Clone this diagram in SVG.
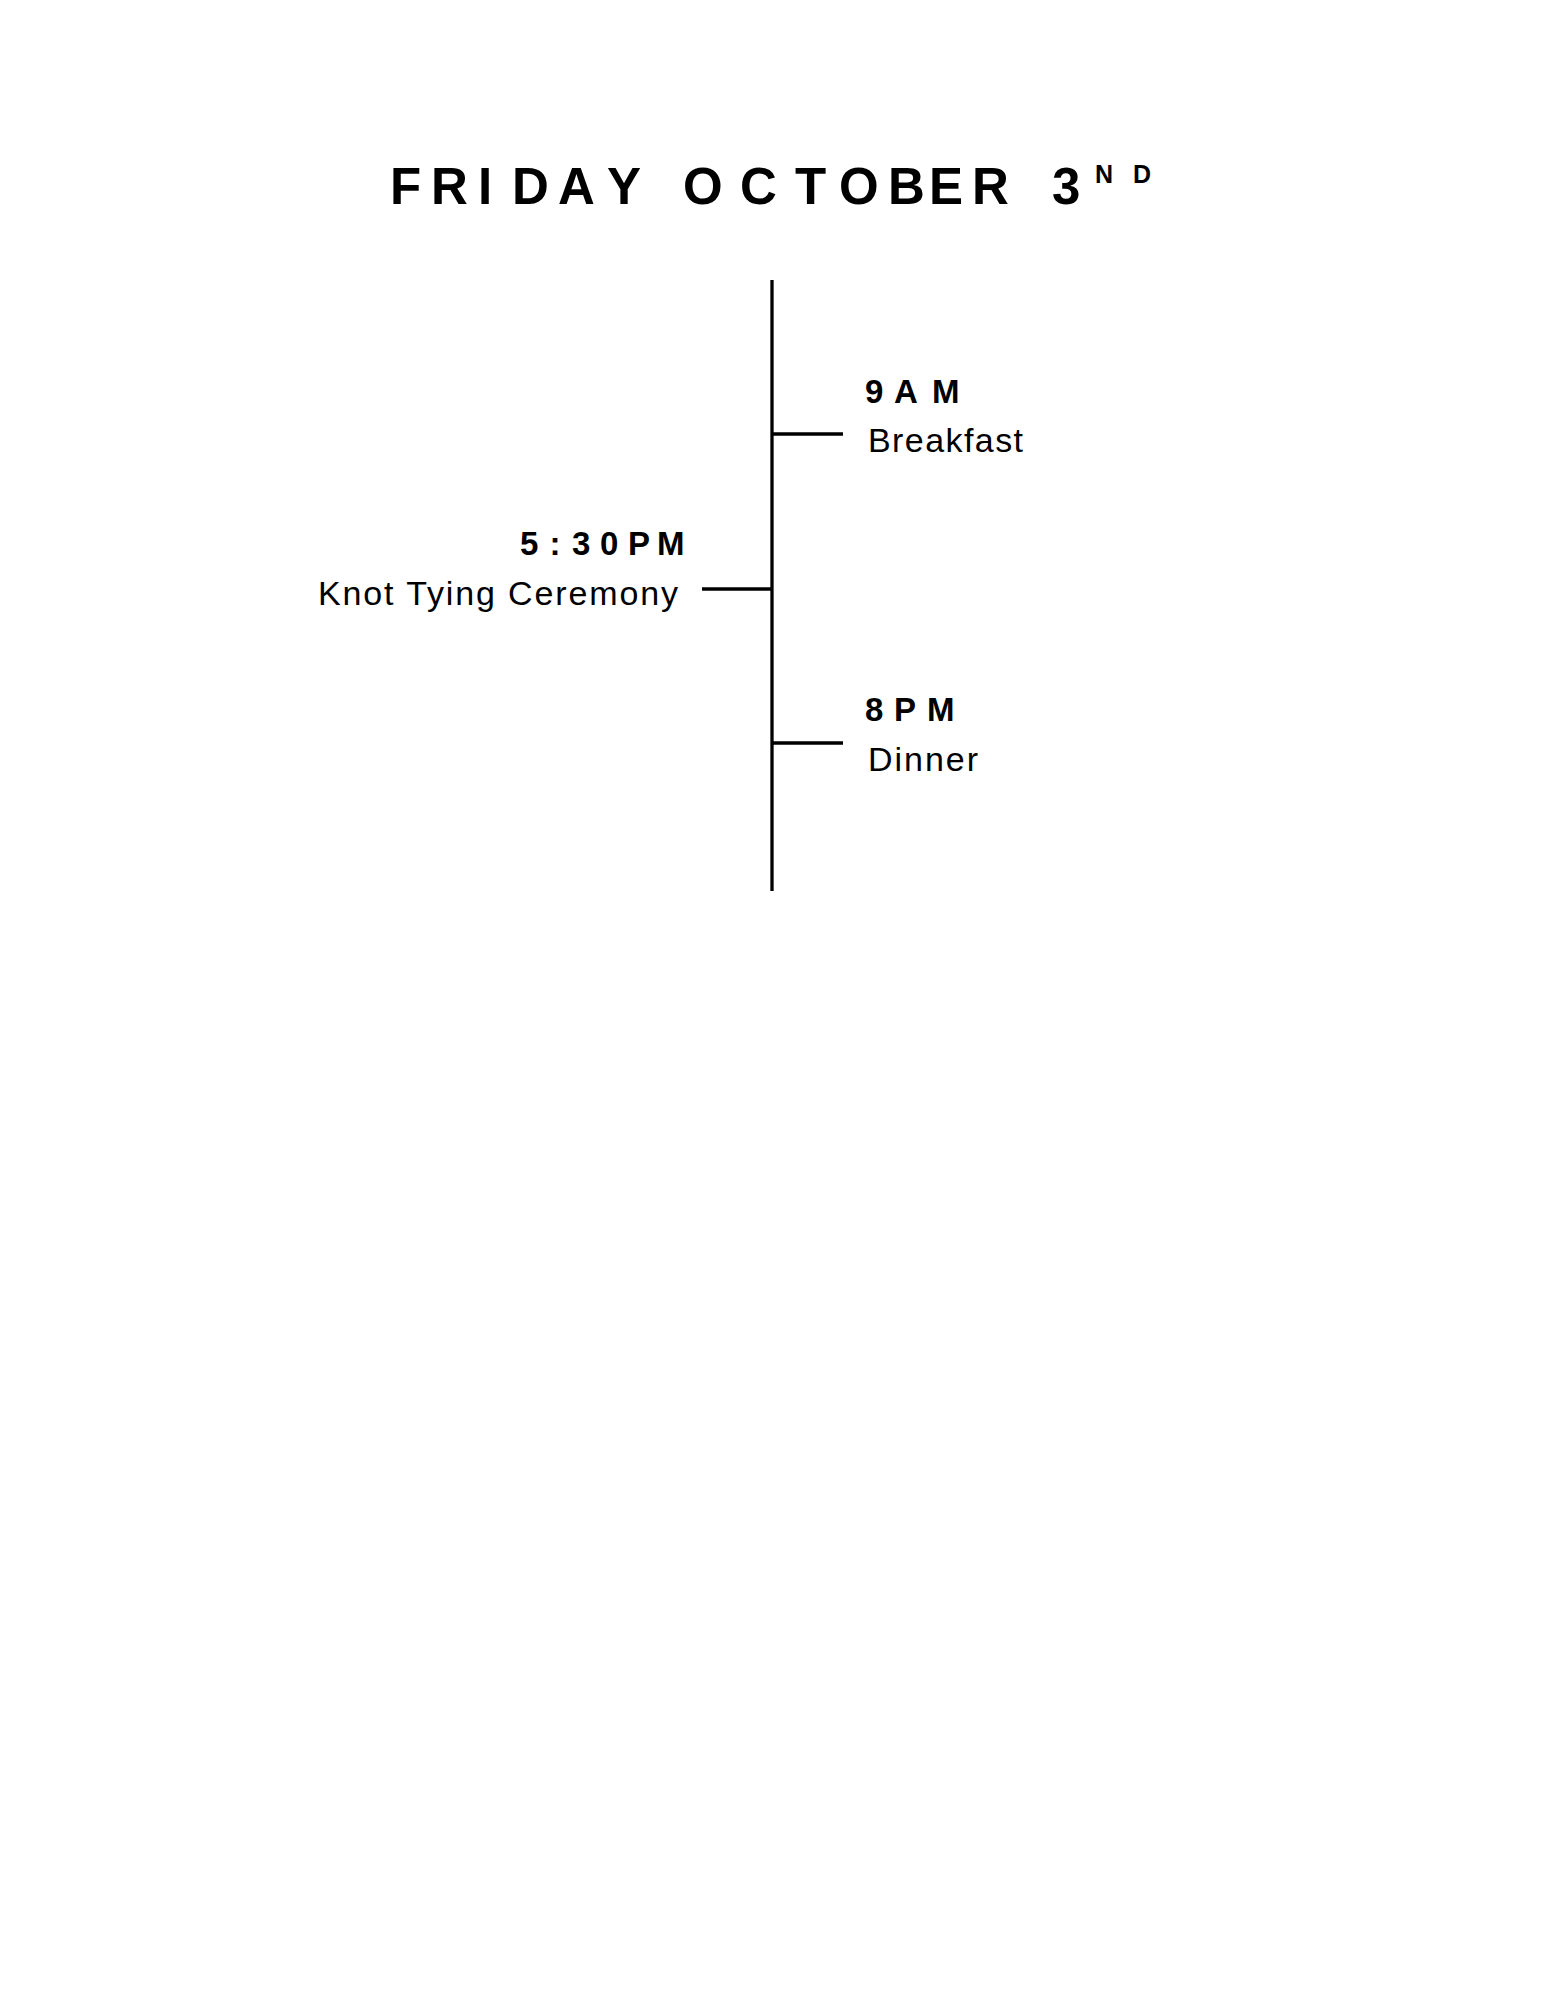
<svg xmlns="http://www.w3.org/2000/svg" width="1545" height="2000" viewBox="0 0 1545 2000">
<style>
.title{font-family:"Liberation Sans",Arial,sans-serif;font-weight:bold;font-size:51px;fill:#000}
.sup{font-family:"Liberation Sans",Arial,sans-serif;font-weight:bold;font-size:25px;fill:#000}
.time{font-family:"Liberation Sans",Arial,sans-serif;font-weight:bold;font-size:33px;fill:#000}
.event{font-family:"Liberation Sans",Arial,sans-serif;font-size:34px;fill:#000}
.line{stroke:#000;stroke-width:3.3;fill:none;stroke-linecap:butt}
</style>
<rect width="1545" height="2000" fill="#fff"/>
<g id="title">
<text class="title" y="204" x="390 431 478 512 558 607 683 740 795 839 888 929 972 1052">FRIDAYOCTOBER3</text>
<text class="sup" y="183" x="1095 1133">ND</text>
</g>
<g id="connectors">
<line class="line" x1="772" y1="280" x2="772" y2="891"/>
<line class="line" x1="772" y1="434" x2="843" y2="434"/>
<line class="line" x1="702" y1="589" x2="772" y2="589"/>
<line class="line" x1="772" y1="743" x2="843" y2="743"/>
</g>
<g id="node-breakfast">
<text class="time" y="403" x="865 894 932">9AM</text>
<text class="event" x="868" y="452" textLength="155" lengthAdjust="spacing">Breakfast</text>
</g>
<g id="node-ceremony">
<text class="time" y="555" x="520 549.5 572 600 628 657">5:30PM</text>
<text class="event" x="318" y="605" textLength="360" lengthAdjust="spacing">Knot Tying Ceremony</text>
</g>
<g id="node-dinner">
<text class="time" y="721" x="865 894 927">8PM</text>
<text class="event" x="868" y="771" textLength="110" lengthAdjust="spacing">Dinner</text>
</g>
</svg>
